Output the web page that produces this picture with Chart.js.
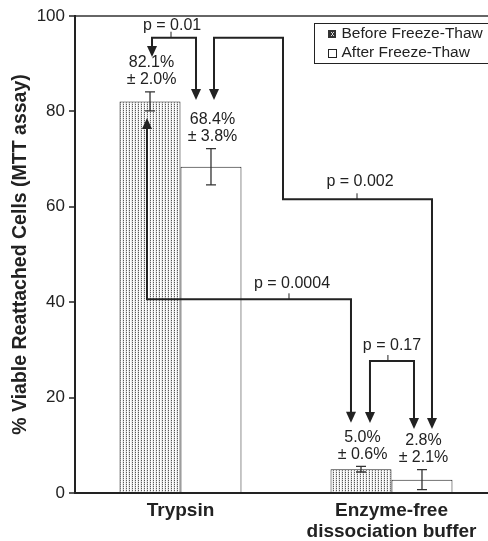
<!DOCTYPE html>
<html>
<head>
<meta charset="utf-8">
<script src="https://cdn.jsdelivr.net/npm/chart.js@4.4.1/dist/chart.umd.min.js"></script>
<style>
  html, body { margin: 0; padding: 0; background: #fff; overflow: hidden; }
  #wrap { width: 488px; height: 541px; overflow: hidden; position: relative; }
  canvas { display: block; }
</style>
</head>
<body>
<div id="wrap"><canvas id="c" width="500" height="541"></canvas></div>
<script>
// ---- data ----
const categories = ['Trypsin', ['Enzyme-free', 'dissociation buffer']];
const seriesNames = ['Before Freeze-Thaw', 'After Freeze-Thaw'];
const beforeValues = [82.1, 5.0];
const afterValues = [68.4, 2.8];
const beforeErrors = [2.0, 0.6];
const afterErrors = [3.8, 2.1];
const yTitle = '% Viable Reattached Cells (MTT assay)';
const yMin = 0, yMax = 100, yStep = 20;

// significance comparisons (x in category index units, y in % units)
const pLabels = ['p = 0.01', 'p = 0.002', 'p = 0.0004', 'p = 0.17'];
const pPaths = [
  [[-0.135, 91.4], [-0.135, 95.45], [0.0735, 95.45], [0.0735, 82.4]],
  [[0.1588, 82.4], [0.1588, 95.45], [0.4858, 95.45], [0.4858, 61.57], [1.1919, 61.57], [1.1919, 13.42]],
  [[-0.1588, 78.6], [-0.1588, 40.6], [0.808, 40.6], [0.808, 14.74]],
  [[0.898, 14.68], [0.898, 27.67], [1.1066, 27.67], [1.1066, 13.42]]
];
const pTickAt = [[-0.045, 95.45], [0.8365, 61.57], [0.5142, 40.6], [0.983, 27.67]];
const pTextAt = [[-0.040, 98.0], [0.8507, 65.26], [0.5284, 44.0], [1.0024, 30.8]];

const FONT = '"Liberation Sans", Arial, Helvetica, sans-serif';
const INK = '#222';

// stipple pattern for "before" bars
function makePattern() {
  const p = document.createElement('canvas');
  p.width = 3; p.height = 2;
  const g = p.getContext('2d');
  g.fillStyle = '#fff'; g.fillRect(0, 0, 3, 2);
  g.fillStyle = '#5a5a5a'; g.fillRect(0, 0, 1, 1);
  g.fillStyle = '#d0d0d0'; g.fillRect(0, 1, 1, 1);
  g.fillStyle = '#ececec'; g.fillRect(2, 0, 1, 2);
  return document.getElementById('c').getContext('2d').createPattern(p, 'repeat');
}
const stipple = makePattern();

function arrowHead(ctx, x0, y0, x1, y1) {
  const ang = Math.atan2(y1 - y0, x1 - x0);
  const L = 11, W = 5;
  ctx.beginPath();
  ctx.moveTo(x1, y1);
  ctx.lineTo(x1 - L * Math.cos(ang) + W * Math.sin(ang), y1 - L * Math.sin(ang) - W * Math.cos(ang));
  ctx.lineTo(x1 - L * Math.cos(ang) - W * Math.sin(ang), y1 - L * Math.sin(ang) + W * Math.cos(ang));
  ctx.closePath();
  ctx.fill();
}

const annotate = {
  id: 'annotate',
  afterDatasetsDraw(chart) {
    const ctx = chart.ctx;
    const xs = chart.scales.x, ys = chart.scales.y;
    const errs = [beforeErrors, afterErrors];
    ctx.save();
    // error bars + value labels
    chart.data.datasets.forEach((ds, di) => {
      const meta = chart.getDatasetMeta(di);
      meta.data.forEach((bar, i) => {
        const v = ds.data[i], e = errs[di][i];
        const x = bar.x;
        const yt = ys.getPixelForValue(v + e), yb = ys.getPixelForValue(v - e);
        ctx.strokeStyle = '#333'; ctx.lineWidth = 1.3;
        ctx.beginPath();
        ctx.moveTo(x, yt); ctx.lineTo(x, yb);
        ctx.moveTo(x - 5, yt); ctx.lineTo(x + 5, yt);
        ctx.moveTo(x - 5, yb); ctx.lineTo(x + 5, yb);
        ctx.stroke();
        ctx.fillStyle = INK;
        ctx.font = '16px ' + FONT;
        ctx.textAlign = 'center'; ctx.textBaseline = 'middle';
        ctx.fillText(v.toFixed(1) + '%', x + 1.5, yt - 29);
        ctx.fillText('\u00b1 ' + e.toFixed(1) + '%', x + 1.5, yt - 12);
      });
    });
    // comparison brackets
    pPaths.forEach((path, k) => {
      const pts = path.map(p => [xs.getPixelForValue(p[0]), ys.getPixelForValue(p[1])]);
      ctx.strokeStyle = INK; ctx.fillStyle = INK; ctx.lineWidth = 2;
      ctx.lineJoin = 'miter';
      const draw = pts.map(p => p.slice());
      const shrink = (a, b) => { const dx = b[0] - a[0], dy = b[1] - a[1]; const d = Math.hypot(dx, dy); return [b[0] - dx / d * 8, b[1] - dy / d * 8]; };
      draw[0] = shrink(pts[1], pts[0]);
      draw[draw.length - 1] = shrink(pts[pts.length - 2], pts[pts.length - 1]);
      ctx.beginPath();
      draw.forEach((p, i) => i ? ctx.lineTo(p[0], p[1]) : ctx.moveTo(p[0], p[1]));
      ctx.stroke();
      arrowHead(ctx, pts[1][0], pts[1][1], pts[0][0], pts[0][1]);
      const n = pts.length;
      arrowHead(ctx, pts[n - 2][0], pts[n - 2][1], pts[n - 1][0], pts[n - 1][1]);
      // small tick + label
      const tx = xs.getPixelForValue(pTickAt[k][0]), ty = ys.getPixelForValue(pTickAt[k][1]);
      ctx.lineWidth = 1;
      ctx.beginPath(); ctx.moveTo(tx, ty); ctx.lineTo(tx, ty - 6); ctx.stroke();
      ctx.font = '16px ' + FONT;
      ctx.textAlign = 'center'; ctx.textBaseline = 'middle';
      ctx.fillText(pLabels[k], xs.getPixelForValue(pTextAt[k][0]), ys.getPixelForValue(pTextAt[k][1]));
    });
    // legend box
    const ca = chart.chartArea;
    const bx = ca.left + 239, by = ca.top + 7, bw = 200, bh = 40;
    ctx.fillStyle = '#fff';
    ctx.fillRect(bx, by, bw, bh);
    ctx.strokeStyle = INK; ctx.lineWidth = 1;
    ctx.strokeRect(bx + 0.5, by + 0.5, bw, bh);
    const rows = [by + 10.5, by + 29.5];
    seriesNames.forEach((name, i) => {
      const sx = bx + 14, sy = Math.round(rows[i] - 4);
      if (i === 0) {
        ctx.fillStyle = '#333'; ctx.fillRect(sx, sy, 8, 8);
        ctx.fillStyle = '#ddd';
        ctx.fillRect(sx + 3, sy + 2, 1, 1); ctx.fillRect(sx + 5, sy + 2, 1, 1);
        ctx.fillRect(sx + 3, sy + 5, 1, 1); ctx.fillRect(sx + 5, sy + 5, 1, 1);
        ctx.fillRect(sx + 4, sy + 3, 1, 2);
      } else {
        ctx.fillStyle = '#fff'; ctx.fillRect(sx, sy, 8, 8);
        ctx.strokeStyle = INK; ctx.strokeRect(sx + 0.5, sy + 0.5, 8, 8);
      }
      ctx.fillStyle = INK;
      ctx.font = '15.5px ' + FONT;
      ctx.textAlign = 'left'; ctx.textBaseline = 'middle';
      ctx.fillText(name, bx + 27.5, rows[i] + 0.5);
    });
    ctx.restore();
  }
};

new Chart(document.getElementById('c'), {
  type: 'bar',
  data: {
    labels: categories,
    datasets: [
      { label: seriesNames[0], data: beforeValues, backgroundColor: stipple, borderColor: INK, borderWidth: 1, borderSkipped: 'bottom' },
      { label: seriesNames[1], data: afterValues, backgroundColor: '#fff', borderColor: INK, borderWidth: 1, borderSkipped: 'bottom' }
    ]
  },
  options: {
    responsive: false,
    animation: false,
    devicePixelRatio: 1,
    layout: { padding: { top: 16, right: 3, left: 0, bottom: 0 } },
    datasets: { bar: { categoryPercentage: 0.578, barPercentage: 1.0 } },
    plugins: { legend: { display: false }, tooltip: { enabled: false } },
    scales: {
      x: {
        grid: { display: false, drawTicks: false },
        border: { color: INK, width: 2 },
        ticks: { color: INK, padding: 7, font: { family: FONT, size: 19, weight: 'bold', lineHeight: 1.1 } },
        afterFit(s) { s.height = 48; }
      },
      y: {
        min: yMin, max: yMax,
        ticks: { stepSize: yStep, color: INK, padding: 4, font: { family: FONT, size: 17 } },
        grid: {
          color: (c) => (c.tick && c.tick.value === yMax) ? '#666' : 'rgba(0,0,0,0)',
          lineWidth: 2, tickColor: INK, tickLength: 6, tickWidth: 1.5
        },
        border: { color: INK, width: 2 },
        title: { display: true, text: yTitle, color: INK, padding: { top: 9, bottom: 0 }, font: { family: FONT, size: 19.5, weight: 'bold' } },
        afterFit(s) { s.width = 75; }
      }
    }
  },
  plugins: [annotate]
});
</script>
</body>
</html>
